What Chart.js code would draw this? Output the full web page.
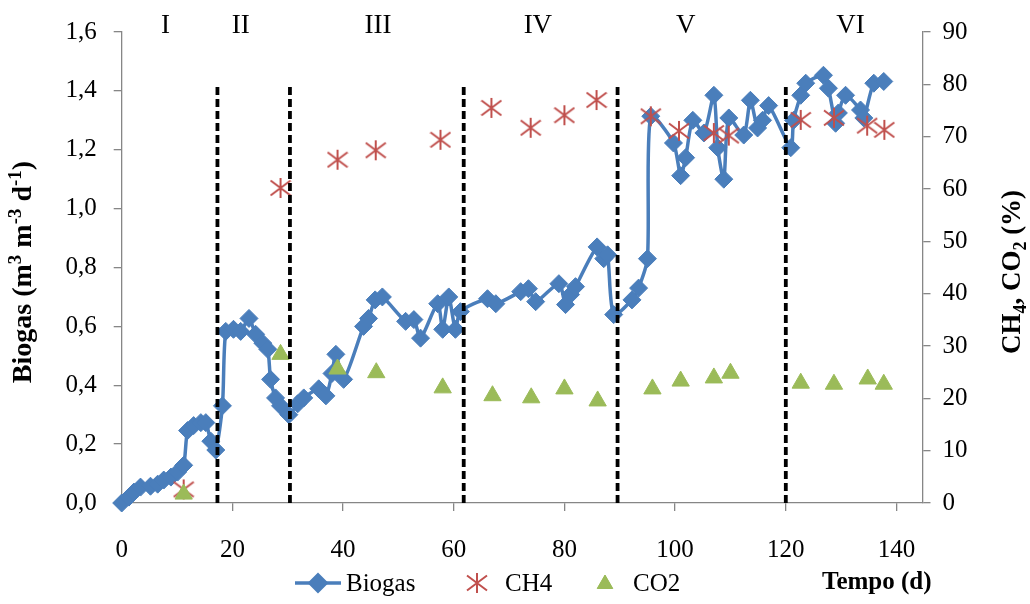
<!DOCTYPE html>
<html>
<head>
<meta charset="utf-8">
<script src="https://cdn.jsdelivr.net/npm/chart.js@4.4.1/dist/chart.umd.min.js"></script>
<style>
  html, body { margin: 0; padding: 0; background: #fff; }
</style>
</head>
<body>
<canvas id="biogasChart" width="1030" height="604"></canvas>
<script>
const FONT = "'Liberation Serif', 'Times New Roman', serif";
const blue = "#4A7EBB";
const red = "#C0504D";
const green = "#9BBB59";
const axisGray = "#868686";

// biogas production (m3 m-3 d-1) over time (d)
let bioDays = [0, 1.3, 2.2, 3.4, 5.2, 6.5, 7.6, 8.9, 10.1, 11.2, 11.9, 13, 14.3, 15.2, 16.1, 17,
  18.2, 18.8, 20.2, 21.5, 23, 24.2, 25.5, 26.4, 26.9, 27.8, 28.7, 30.2,
  31.8, 32.9, 35.6, 36.9, 38.0, 38.7, 40.1, 43.7, 44.6, 45.8, 47.1, 51.3, 52.8, 54, 57.1, 58, 59.1, 60.3, 61.2,
  66.1, 67.6, 72.1, 73.5, 74.8, 79, 80.2, 81.1, 82, 85.9, 87.1, 87.8, 88.9,
  92.2, 93.4, 95, 95.6, 99.7, 101, 101.9, 103.2, 105.2, 107, 107.7, 108.8, 109.7, 112.4, 113.6, 114.9, 115.8, 116.9,
  120.9, 121.4, 122.7, 123.6, 126.8, 127.7, 129, 129.5, 130.8, 133.5, 134.1, 135.9, 137.7];
let bioRate = [0, 0.02, 0.037, 0.054, 0.057, 0.064, 0.078, 0.088, 0.105, 0.128, 0.246, 0.263, 0.273, 0.273, 0.21, 0.18,
  0.33, 0.583, 0.59, 0.583, 0.627, 0.573, 0.543, 0.522, 0.42, 0.357, 0.33, 0.30,
  0.337, 0.357, 0.388, 0.364, 0.44, 0.505, 0.42, 0.60, 0.627, 0.69, 0.70, 0.617, 0.623, 0.56, 0.677, 0.59, 0.70, 0.59, 0.65,
  0.694, 0.677, 0.718, 0.728, 0.684, 0.745, 0.674, 0.708, 0.735, 0.87, 0.83, 0.843, 0.64,
  0.69, 0.73, 0.83, 1.314, 1.223, 1.112, 1.173, 1.30, 1.257, 1.385, 1.207, 1.10, 1.308, 1.25, 1.368, 1.274, 1.30, 1.35,
  1.207, 1.30, 1.385, 1.426, 1.453, 1.409, 1.29, 1.325, 1.385, 1.335, 1.308, 1.426, 1.432];

// CH4 and CO2 content (%)
let ch4Days = [11.2, 28.7, 39, 45.9, 57.6, 66.8, 73.9, 80, 85.8, 95.6, 100.7, 107, 109.7, 122.7, 128.7, 134.7, 137.8];
let ch4Pct = [2.6, 60.2, 65.6, 67.4, 69.4, 75.5, 71.7, 74.1, 77, 73.9, 71.1, 70.7, 70.2, 73.2, 73.6, 72.1, 71.3];
let co2Days = [11.2, 28.7, 39, 46, 58, 67, 74, 80, 86, 95.9, 101, 107, 110, 122.7, 128.7, 134.8, 137.7];
let co2Pct = [1.7, 28.4, 25.6, 24.9, 22.0, 20.5, 20.1, 21.8, 19.5, 21.8, 23.3, 23.9, 24.8, 22.9, 22.7, 23.7, 22.7];

// operating phases
let phaseBounds = [17.3, 30.4, 61.8, 89.6, 120];
let phaseTop = 1.415;
let phaseNames = ["I", "II", "III", "IV", "V", "VI"];
let phaseLabelX = [7.9, 21.5, 46.3, 75.2, 101.9, 131.7];

let xTicks = [0, 20, 40, 60, 80, 100, 120, 140];
let yTicks = [0, 0.2, 0.4, 0.6, 0.8, 1.0, 1.2, 1.4, 1.6];
let y2Ticks = [0, 10, 20, 30, 40, 50, 60, 70, 80, 90];

function toPoints(xs, ys) {
  return xs.map((x, i) => ({ x: x, y: ys[i] }));
}

function makeStar(size, color) {
  let c = document.createElement("canvas");
  c.width = size;
  c.height = size;
  let g = c.getContext("2d");
  let m = size / 2, a = size / 2 - 1;
  g.strokeStyle = color;
  g.lineWidth = 2;
  g.beginPath();
  g.moveTo(m, 1); g.lineTo(m, size - 1);
  g.moveTo(m - a, m - a * 0.75); g.lineTo(m + a, m + a * 0.75);
  g.moveTo(m - a, m + a * 0.75); g.lineTo(m + a, m - a * 0.75);
  g.stroke();
  return c;
}
let starImg = makeStar(22, red);

function font(size, bold) {
  return (bold ? "bold " : "") + size + "px " + FONT;
}

// text with super/subscripts, centred on the current origin
function drawRich(ctx, parts, size, bold) {
  let total = 0;
  parts.forEach(p => {
    ctx.font = font(p.s ? Math.round(size * 0.68) : size, bold);
    p.w = ctx.measureText(p.t).width;
    total += p.w;
  });
  let x = -total / 2;
  ctx.textAlign = "left";
  ctx.textBaseline = "alphabetic";
  parts.forEach(p => {
    ctx.font = font(p.s ? Math.round(size * 0.68) : size, bold);
    let dy = p.s === "sup" ? -size * 0.38 : p.s === "sub" ? size * 0.22 : 0;
    ctx.fillText(p.t, x, dy + size * 0.33);
    x += p.w;
  });
}

const decor = {
  id: "decor",
  afterDraw(chart) {
    let ctx = chart.ctx;
    let xs = chart.scales.x;
    ctx.save();
    ctx.fillStyle = "#000";

    // phase numerals
    ctx.font = font(27, false);
    ctx.textAlign = "center";
    ctx.textBaseline = "middle";
    phaseNames.forEach((n, i) => {
      ctx.fillText(n, xs.getPixelForValue(phaseLabelX[i]), 26);
    });

    // left axis title
    ctx.save();
    ctx.translate(22, 272);
    ctx.rotate(-Math.PI / 2);
    drawRich(ctx, [
      { t: "Biogas (m" }, { t: "3", s: "sup" }, { t: " m" }, { t: "-3", s: "sup" },
      { t: " d" }, { t: "-1", s: "sup" }, { t: ")" }
    ], 28, true);
    ctx.restore();

    // right axis title
    ctx.save();
    ctx.translate(1011, 272);
    ctx.rotate(-Math.PI / 2);
    drawRich(ctx, [
      { t: "CH" }, { t: "4", s: "sub" }, { t: ", CO" }, { t: "2", s: "sub" }, { t: " (%)" }
    ], 27, true);
    ctx.restore();

    // x axis title
    ctx.font = font(25, true);
    ctx.textAlign = "left";
    ctx.textBaseline = "middle";
    ctx.fillText("Tempo (d)", 822, 583);

    // legend
    let ly = 583;
    ctx.strokeStyle = blue;
    ctx.lineWidth = 3.5;
    ctx.beginPath();
    ctx.moveTo(295, ly);
    ctx.lineTo(341, ly);
    ctx.stroke();
    Chart.helpers.drawPoint(ctx, { pointStyle: "rectRot", radius: 8, borderWidth: 1 }, 318, ly);
    ctx.fillStyle = blue;
    ctx.fill();
    ctx.drawImage(starImg, 477 - 11, ly - 11);
    ctx.fillStyle = green;
    ctx.strokeStyle = green;
    ctx.lineWidth = 1;
    Chart.helpers.drawPoint(ctx, { pointStyle: "triangle", radius: 9, borderWidth: 1 }, 605, ly + 1);
    ctx.fill();

    ctx.fillStyle = "#000";
    ctx.font = font(25, false);
    ctx.textAlign = "left";
    ctx.textBaseline = "middle";
    ctx.fillText("Biogas", 346, ly + 1);
    ctx.fillText("CH4", 505, ly + 1);
    ctx.fillText("CO2", 633, ly + 1);
    ctx.restore();
  }
};

let datasets = [
  {
    label: "Biogas",
    data: toPoints(bioDays, bioRate),
    yAxisID: "y",
    borderColor: blue,
    backgroundColor: blue,
    borderWidth: 3.5,
    tension: 0.25,
    pointStyle: "rectRot",
    pointRadius: 9,
    pointBorderWidth: 1,
    clip: false,
    order: 4
  },
  {
    label: "CH4",
    data: toPoints(ch4Days, ch4Pct),
    yAxisID: "y1",
    showLine: false,
    pointStyle: starImg,
    pointRadius: 11,
    clip: false,
    order: 3
  },
  {
    label: "CO2",
    data: toPoints(co2Days, co2Pct),
    yAxisID: "y1",
    showLine: false,
    borderColor: green,
    backgroundColor: green,
    pointStyle: "triangle",
    pointRadius: 10,
    pointBorderWidth: 1,
    clip: false,
    order: 2
  }
];
phaseBounds.forEach(b => {
  datasets.push({
    label: "",
    data: [{ x: b, y: 0 }, { x: b, y: phaseTop }],
    yAxisID: "y",
    borderColor: "#000",
    borderWidth: 3.8,
    borderDash: [8, 4],
    pointRadius: 0,
    order: 1
  });
});

let tickFont = { family: FONT, size: 25 };

let biogasChart = new Chart(document.getElementById("biogasChart").getContext("2d"), {
  type: "line",
  data: { datasets: datasets },
  plugins: [decor],
  options: {
    responsive: false,
    animation: false,
    devicePixelRatio: 1,
    events: [],
    layout: { padding: { top: 28.3, left: 0, right: 0, bottom: 0 } },
    plugins: {
      legend: { display: false },
      tooltip: { enabled: false }
    },
    scales: {
      x: {
        type: "linear",
        min: 0,
        max: 144.7,
        afterBuildTicks: s => { s.ticks = xTicks.map(v => ({ value: v })); },
        afterFit: s => { s.height = 101; },
        grid: { drawOnChartArea: false, tickLength: 8, color: axisGray, lineWidth: 1.3 },
        border: { color: axisGray, width: 1.3 },
        ticks: { font: tickFont, color: "#000", padding: 24, maxRotation: 0 }
      },
      y: {
        position: "left",
        min: 0,
        max: 1.6,
        afterBuildTicks: s => { s.ticks = yTicks.map(v => ({ value: v })); },
        afterFit: s => { s.width = 121.7; },
        grid: { drawOnChartArea: false, tickLength: 8, color: axisGray, lineWidth: 1.3 },
        border: { color: axisGray, width: 1.3 },
        ticks: {
          font: tickFont,
          color: "#000",
          padding: 17,
          callback: v => v.toFixed(1).replace(".", ",")
        }
      },
      y1: {
        position: "right",
        min: 0,
        max: 90,
        afterBuildTicks: s => { s.ticks = y2Ticks.map(v => ({ value: v })); },
        afterFit: s => { s.width = 107.5; },
        grid: { drawOnChartArea: false, tickLength: 8, color: axisGray, lineWidth: 1.3 },
        border: { color: axisGray, width: 1.3 },
        ticks: { font: tickFont, color: "#000", padding: 12 }
      }
    }
  }
});
</script>
</body>
</html>
